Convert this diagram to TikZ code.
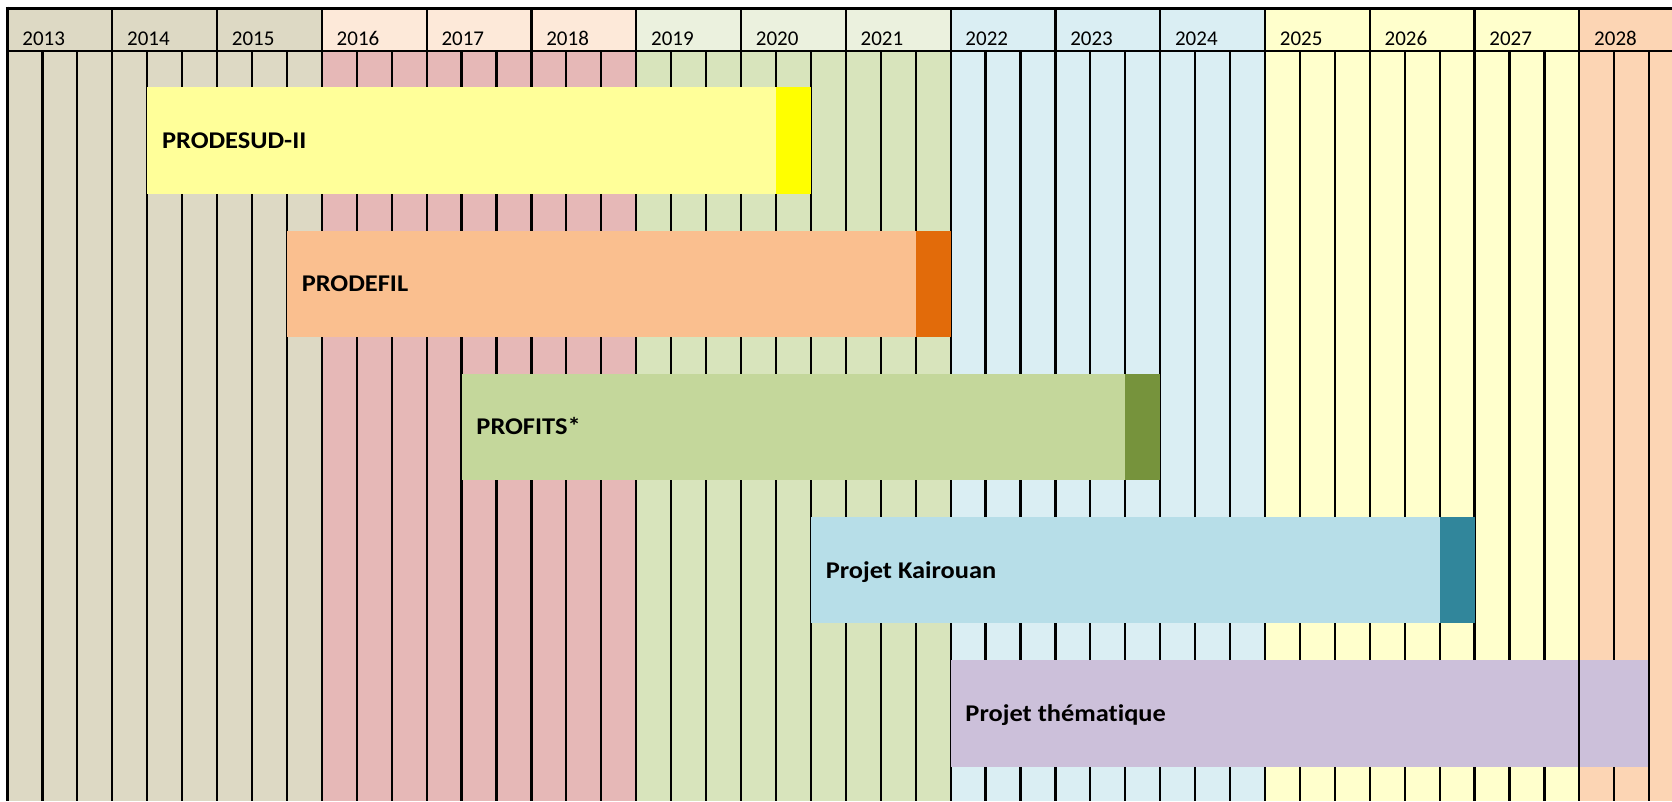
\documentclass[tikz,border=0pt]{standalone}
\usepackage{fontspec}
\setmainfont{Carlito}[Ligatures=CommonOff]
\definecolor{tanB}{HTML}{DDD9C4}
\definecolor{pinkH}{HTML}{FDE9D9}
\definecolor{pinkB}{HTML}{E6B8B7}
\definecolor{olivH}{HTML}{EBF1DE}
\definecolor{olivB}{HTML}{D8E4BC}
\definecolor{blueB}{HTML}{DAEEF3}
\definecolor{yelB}{HTML}{FFFFCC}
\definecolor{orgB}{HTML}{FCD5B4}
\definecolor{barY}{HTML}{FFFF99}
\definecolor{barYd}{HTML}{FFFF00}
\definecolor{barO}{HTML}{FABF8F}
\definecolor{barOd}{HTML}{E26B0A}
\definecolor{barG}{HTML}{C4D79B}
\definecolor{barGd}{HTML}{76933C}
\definecolor{barB}{HTML}{B7DEE8}
\definecolor{barBd}{HTML}{31869B}
\definecolor{barP}{HTML}{CCC0DA}
\newcommand{\wlabel}[1]{\scalebox{1.1}[1]{#1}}
\begin{document}
\begin{tikzpicture}[x=34.93pt,y=-1pt,
  yearlbl/.style={anchor=base west, font=\fontsize{21}{24}\selectfont, inner sep=0pt},
  barlbl/.style={anchor=base west, font=\fontsize{24}{28}\selectfont\bfseries, inner sep=0pt},
  gridline/.style={line width=2.2pt, black},
  frameline/.style={line width=3pt, black}]
\useasboundingbox (-0.2147,0) rectangle (47.6524,801);
\clip (-0.2147,0) rectangle (47.6524,801);
% header backgrounds
\fill[tanB]  (0,8) rectangle (9,51);
\fill[pinkH] (9,8) rectangle (18,51);
\fill[olivH] (18,8) rectangle (27,51);
\fill[blueB] (27,8) rectangle (36,51);
\fill[yelB]  (36,8) rectangle (45,51);
\fill[orgB]  (45,8) rectangle (48,51);
% body backgrounds
\fill[tanB]  (0,51) rectangle (9,801);
\fill[pinkB] (9,51) rectangle (18,801);
\fill[olivB] (18,51) rectangle (27,801);
\fill[blueB] (27,51) rectangle (36,801);
\fill[yelB]  (36,51) rectangle (45,801);
\fill[orgB]  (45,51) rectangle (48,801);
% grid
\foreach \c in {1,...,47} \draw[gridline] (\c,51) -- (\c,801);
\foreach \k in {1,...,15} \draw[gridline] (3*\k,8) -- (3*\k,51);
\draw[line width=2.5pt] (0,51) -- (48,51);
\draw[frameline] (0,6.5) -- (0,801);
\draw[frameline] (-0.043,8) -- (48,8);
% year labels
\foreach \k [evaluate=\k as \yr using int(2013+\k)] in {0,...,15}
  \node[yearlbl] (y\k) at (3*\k+0.42,45.5) {\yr};
% bars
\fill[barY]  (4,87.3) rectangle (22,193.8);
\fill[barYd] (22,87.3) rectangle (23,193.8);
\fill[barO]  (8,230.5) rectangle (26,337);
\fill[barOd] (26,230.5) rectangle (27,337);
\fill[barG]  (13,373.7) rectangle (32,480.2);
\fill[barGd] (32,373.7) rectangle (33,480.2);
\fill[barB]  (23,516.9) rectangle (41,623.4);
\fill[barBd] (41,516.9) rectangle (42,623.4);
\fill[barP]  (27,660.1) rectangle (47,766.6);
\draw[gridline] (45,660.1) -- (45,766.6);
\draw[gridline] (47,660.1) -- (47,766.6);
% bar labels
\node[barlbl] (l1) at (4.42,148.5) {\wlabel{PRODESUD-II}};
\node[barlbl] (l2) at (8.42,291.7) {\wlabel{PRODEFIL}};
\node[barlbl] (l3) at (13.42,434.9) {\wlabel{PROFITS*}};
\node[barlbl] (l4) at (23.42,578.1) {\wlabel{Projet Kairouan}};
\node[barlbl] (l5) at (27.42,721.3) {\wlabel{Projet thématique}};
\end{tikzpicture}
\end{document}
